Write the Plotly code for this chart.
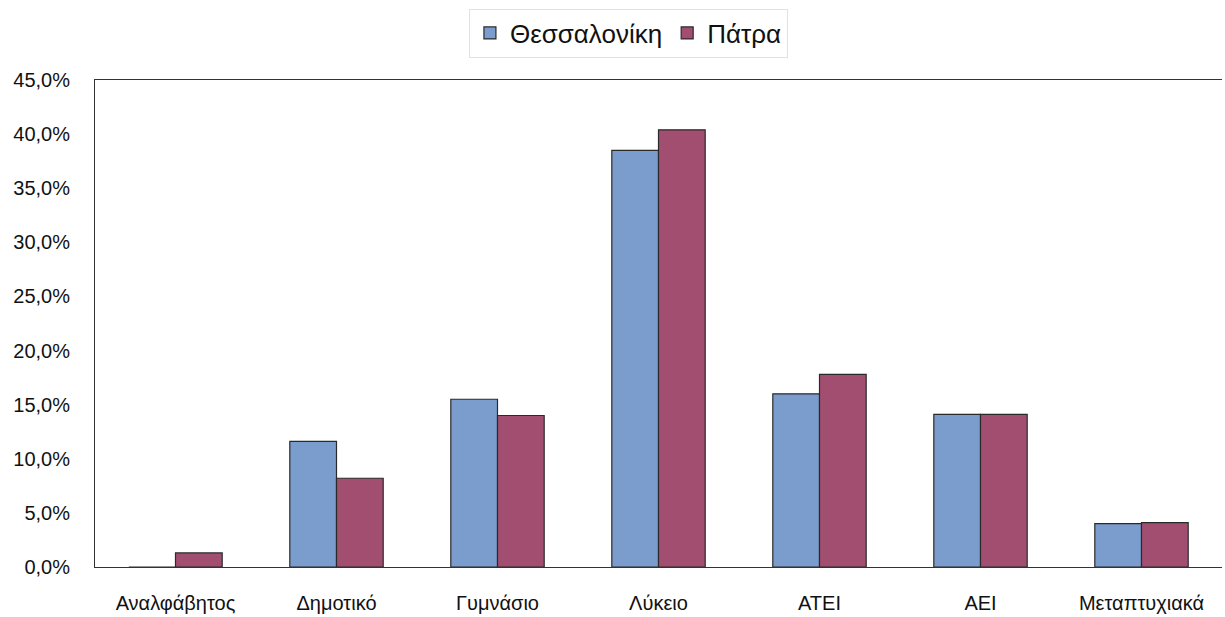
import plotly.graph_objects as go

# Education level shares for the two cities
categories = ["Αναλφάβητος", "Δημοτικό", "Γυμνάσιο", "Λύκειο", "ΑΤΕΙ", "ΑΕΙ", "Μεταπτυχιακά"]
thessaloniki_pct = [0.0, 11.6, 15.5, 38.5, 16.0, 14.1, 4.0]
patra_pct = [1.3, 8.2, 14.0, 40.4, 17.8, 14.1, 4.1]
y_ticks_pct = [0, 5, 10, 15, 20, 25, 30, 35, 40, 45]

FONT = "Liberation Sans, Arial, sans-serif"

fig = go.Figure()
fig.add_trace(go.Bar(
    name="Θεσσαλονίκη", x=categories, y=[v / 100 for v in thessaloniki_pct],
    marker=dict(color="#7b9dcd", line=dict(color="#2a2a2a", width=1.2)),
))
fig.add_trace(go.Bar(
    name="Πάτρα", x=categories, y=[v / 100 for v in patra_pct],
    marker=dict(color="#a24e71", line=dict(color="#2a2a2a", width=1.2)),
))

fig.update_layout(
    width=1225, height=617,
    margin=dict(l=95, r=3, t=80, b=48),
    paper_bgcolor="white", plot_bgcolor="white",
    barmode="group", bargap=0.42, bargroupgap=0,
    separators=",.",
    font=dict(family=FONT, size=20, color="#111"),
    showlegend=True,
    legend=dict(
        orientation="h", xref="container", yref="container",
        x=0.513, xanchor="center", y=1 - 33 / 617, yanchor="middle",
        font=dict(size=26, color="#111"), itemwidth=30,
        bgcolor="white", bordercolor="#e2e2e2", borderwidth=1,
        tracegroupgap=0,
    ),
    xaxis=dict(
        showline=True, linecolor="#333", linewidth=1, mirror=True,
        showgrid=False, ticks="", ticklabelstandoff=18,
        tickfont=dict(size=20),
    ),
    yaxis=dict(
        range=[0, 0.45], tickvals=[t / 100 for t in y_ticks_pct],
        tickformat=".1%", showline=True, linecolor="#333", linewidth=1,
        showgrid=False, zeroline=False, ticks="", ticklabelstandoff=20,
        tickfont=dict(size=20),
    ),
)

fig.write_html("out.html")
